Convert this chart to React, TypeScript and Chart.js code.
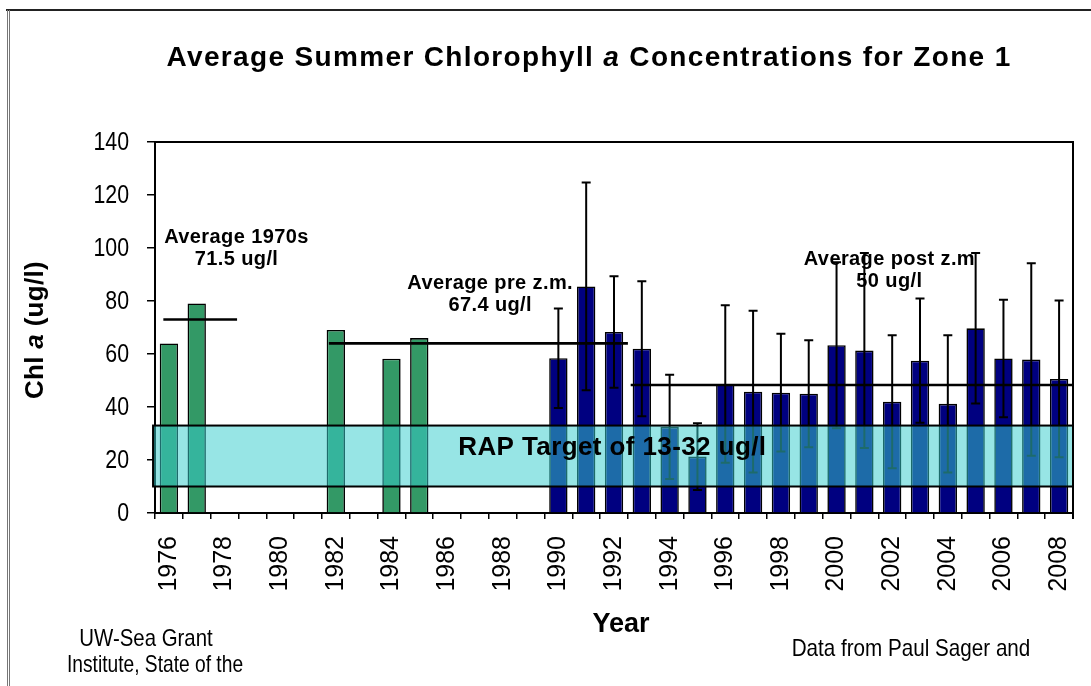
import React, { useEffect, useRef } from 'react';
import { Chart, registerables } from 'chart.js';

Chart.register(...registerables);

// ---------- data ----------
const categories = [
  '1976', '1977', '1978', '1979', '1980', '1981', '1982', '1983', '1984', '1985', '1986',
  '1987', '1988', '1989', '1990', '1991', '1992', '1993', '1994', '1995', '1996', '1997',
  '1998', '1999', '2000', '2001', '2002', '2003', '2004', '2005', '2006', '2007', '2008',
];

const preYears = ['1976', '1977', '1982', '1984', '1985'];
const preValues = [64.0, 79.1, 69.1, 58.2, 66.0];

const postYears = [
  '1990', '1991', '1992', '1993', '1994', '1995', '1996', '1997', '1998', '1999',
  '2000', '2001', '2002', '2003', '2004', '2005', '2006', '2007', '2008',
];
const postValues = [58.4, 85.5, 68.3, 62.0, 32.5, 21.3, 48.7, 45.8, 45.4, 45.0, 63.3, 61.3, 42.0, 57.5, 41.2, 69.7, 58.3, 57.9, 50.6];
const postErrors = [18.8, 39.2, 21.0, 25.5, 19.7, 12.6, 29.7, 30.5, 22.2, 20.2, 31.3, 36.8, 25.1, 23.4, 25.9, 28.4, 22.2, 36.3, 29.6];

const yTicks = [0, 20, 40, 60, 80, 100, 120, 140];

// average reference lines (in year / value units)
const avgNames = ['Average 1970s', 'Average pre z.m.', 'Average post z.m'];
const avgValueText = ['71.5 ug/l', '67.4 ug/l', '50 ug/l'];
const avgFrom = [1975.8, 1981.75, 1992.6];
const avgTo = [1978.45, 1992.5, 2008.5];
const avgLevel = [73, 64, 48.3];

// RAP target band
const targetLow = 10;
const targetHigh = 33;
const targetText = 'RAP Target of 13-32 ug/l';

// ---------- layout / style (not data) ----------
const FONT = '"Liberation Sans", Arial, sans-serif';
const annoAnchor = [
  { year: 1978.43, level: 101.8 },
  { year: 1987.55, level: 84.4 },
  { year: 2001.9, level: 93.4 },
];
const bandAnchor = { fromYear: 1975.43, textYear: 1991.94, textLevel: 21.9 };

function drawMixed(ctx: CanvasRenderingContext2D, parts: { t: string; italic?: boolean }[], size: number, cx: number, cy: number, spacing: number) {
  const widths = parts.map((p) => {
    ctx.font = `${p.italic ? 'italic ' : ''}bold ${size}px ${FONT}`;
    (ctx as any).letterSpacing = `${spacing}px`;
    return ctx.measureText(p.t).width;
  });
  const total = widths.reduce((a, b) => a + b, 0);
  let x = cx - total / 2;
  ctx.textAlign = 'left';
  parts.forEach((p, i) => {
    ctx.font = `${p.italic ? 'italic ' : ''}bold ${size}px ${FONT}`;
    (ctx as any).letterSpacing = `${spacing}px`;
    ctx.fillText(p.t, x, cy);
    x += widths[i];
  });
  (ctx as any).letterSpacing = '0px';
}

const overlayPlugin = {
  id: 'overlay',
  afterDatasetsDraw(chart: any) {
    const { ctx, chartArea: a, scales } = chart;
    const x = scales.x;
    const y = scales.y;
    const px = (yr: number) => x.getPixelForValue(yr - 1976);
    ctx.save();
    ctx.strokeStyle = '#000';
    ctx.fillStyle = '#000';

    // plot frame (top & right)
    ctx.lineWidth = 2;
    ctx.beginPath();
    ctx.moveTo(a.left, a.top);
    ctx.lineTo(a.right, a.top);
    ctx.lineTo(a.right, a.bottom + 6);
    ctx.stroke();

    // average lines
    ctx.lineWidth = 2.6;
    for (let i = 0; i < avgLevel.length; i++) {
      const yy = y.getPixelForValue(avgLevel[i]);
      ctx.beginPath();
      ctx.moveTo(px(avgFrom[i]), yy);
      ctx.lineTo(px(avgTo[i]), yy);
      ctx.stroke();
    }

    // average texts
    ctx.textBaseline = 'alphabetic';
    ctx.textAlign = 'center';
    ctx.font = `bold 20px ${FONT}`;
    (ctx as any).letterSpacing = '0.4px';
    for (let i = 0; i < avgNames.length; i++) {
      const cx = px(annoAnchor[i].year);
      const cy = y.getPixelForValue(annoAnchor[i].level);
      ctx.fillText(avgNames[i], cx, cy);
      ctx.fillText(avgValueText[i], cx, cy + 22);
    }
    (ctx as any).letterSpacing = '0px';

    // error bars
    ctx.lineWidth = 2;
    for (let i = 0; i < postYears.length; i++) {
      const idx = categories.indexOf(postYears[i]);
      const cx = x.getPixelForValue(idx);
      const top = y.getPixelForValue(postValues[i] + postErrors[i]);
      const bot = y.getPixelForValue(postValues[i] - postErrors[i]);
      ctx.beginPath();
      ctx.moveTo(cx, top);
      ctx.lineTo(cx, bot);
      ctx.moveTo(cx - 4.5, top);
      ctx.lineTo(cx + 4.5, top);
      ctx.moveTo(cx - 4.5, bot);
      ctx.lineTo(cx + 4.5, bot);
      ctx.stroke();
    }

    // RAP target band
    const bl = px(bandAnchor.fromYear);
    const bt = y.getPixelForValue(targetHigh);
    const bb = y.getPixelForValue(targetLow);
    ctx.fillStyle = 'rgba(56,206,206,0.52)';
    ctx.fillRect(bl, bt, a.right - bl, bb - bt);
    ctx.lineWidth = 2;
    ctx.strokeStyle = '#000';
    ctx.strokeRect(bl, bt, a.right - bl, bb - bt);
    ctx.fillStyle = '#000';
    ctx.font = `bold 26px ${FONT}`;
    (ctx as any).letterSpacing = '0.4px';
    ctx.textAlign = 'center';
    ctx.fillText(targetText, px(bandAnchor.textYear), y.getPixelForValue(bandAnchor.textLevel));
    (ctx as any).letterSpacing = '0px';
    ctx.restore();
  },
  afterDraw(chart: any) {
    const { ctx, chartArea: a, scales } = chart;
    const y = scales.y;
    ctx.save();
    ctx.fillStyle = '#000';
    ctx.textBaseline = 'alphabetic';

    // outer frame
    ctx.strokeStyle = '#222';
    ctx.lineWidth = 2;
    ctx.beginPath();
    ctx.moveTo(6, 10);
    ctx.lineTo(1091, 10);
    ctx.stroke();
    ctx.strokeStyle = '#777';
    ctx.lineWidth = 1;
    ctx.beginPath();
    ctx.moveTo(7.5, 10);
    ctx.lineTo(7.5, 686);
    ctx.moveTo(9.5, 10);
    ctx.lineTo(9.5, 686);
    ctx.stroke();

    // y tick labels (condensed)
    for (const v of yTicks) {
      ctx.save();
      ctx.translate(a.left - 26, y.getPixelForValue(v));
      ctx.scale(0.82, 1);
      ctx.font = `26px ${FONT}`;
      ctx.textAlign = 'right';
      ctx.textBaseline = 'middle';
      ctx.fillText(String(v), 0, 1);
      ctx.restore();
    }

    // title
    drawMixed(ctx, [
      { t: 'Average Summer Chlorophyll ' },
      { t: 'a', italic: true },
      { t: ' Concentrations for Zone 1' },
    ], 28, 589, 66, 1.35);

    // y title
    ctx.save();
    ctx.translate(36, 330);
    ctx.rotate(-Math.PI / 2);
    ctx.textBaseline = 'middle';
    drawMixed(ctx, [{ t: 'Chl ' }, { t: 'a', italic: true }, { t: ' (ug/l)' }], 26, 0, 0, 0.3);
    ctx.restore();

    // x title
    ctx.textAlign = 'center';
    ctx.font = `bold 27px ${FONT}`;
    ctx.fillText('Year', 621, 632);

    // footers
    const foot = (t: string, cx: number, by: number, sx: number) => {
      ctx.save();
      ctx.translate(cx, by);
      ctx.scale(sx, 1);
      ctx.font = `24px ${FONT}`;
      ctx.textAlign = 'center';
      ctx.fillText(t, 0, 0);
      ctx.restore();
    };
    foot('UW-Sea Grant', 146, 646, 0.85);
    foot('Institute, State of the', 155, 672, 0.8);
    foot('Data from Paul Sager and', 911, 656, 0.86);
    ctx.restore();
  },
};

const zeroPad = (s: any) => {
  s.paddingLeft = 0;
  s.paddingRight = 0;
  s.paddingTop = 0;
  s.paddingBottom = 0;
};

export default function App() {
  const ref = useRef<HTMLCanvasElement | null>(null);
  useEffect(() => {
    if (!ref.current) return;
    const preData = categories.map((c) => {
      const i = preYears.indexOf(c);
      return i >= 0 ? preValues[i] : null;
    });
    const postData = categories.map((c) => {
      const i = postYears.indexOf(c);
      return i >= 0 ? postValues[i] : null;
    });
    const chart = new Chart(ref.current, {
      type: 'bar',
      data: {
        labels: categories,
        datasets: [
          {
            label: 'Pre zebra mussel',
            data: preData,
            backgroundColor: '#339966',
            borderColor: '#000',
            borderWidth: 1.6,
            grouped: false,
            categoryPercentage: 1,
            barPercentage: 0.66,
          } as any,
          {
            label: 'Post zebra mussel',
            data: postData,
            backgroundColor: '#000080',
            borderColor: '#000',
            borderWidth: 1.6,
            grouped: false,
            categoryPercentage: 1,
            barPercentage: 0.66,
          } as any,
        ],
      },
      options: {
        responsive: false,
        animation: false,
        devicePixelRatio: 1,
        layout: { padding: { left: 0, right: 18, top: 142, bottom: 73 } },
        plugins: { legend: { display: false }, tooltip: { enabled: false }, title: { display: false } },
        scales: {
          x: {
            type: 'category',
            offset: true,
            afterFit: (s: any) => { s.height = 100; zeroPad(s); },
            grid: { offset: true, drawOnChartArea: false, drawTicks: true, tickLength: 6, color: '#000', lineWidth: 1.5 },
            border: { display: true, color: '#000', width: 2 },
            ticks: {
              autoSkip: false,
              minRotation: 90,
              maxRotation: 90,
              padding: 17,
              color: '#000',
              font: { family: FONT, size: 25 },
              callback: (_v: any, i: number) => (i % 2 === 0 ? categories[i] : ''),
            },
          },
          y: {
            min: yTicks[0],
            max: yTicks[yTicks.length - 1],
            afterFit: (s: any) => { s.width = 155; zeroPad(s); },
            afterBuildTicks: (s: any) => { s.ticks = yTicks.map((v) => ({ value: v })); },
            grid: { drawOnChartArea: false, drawTicks: true, tickLength: 8, color: '#000', lineWidth: 1.5 },
            border: { display: true, color: '#000', width: 2 },
            ticks: { display: false },
          },
        },
      },
      plugins: [overlayPlugin],
    });
    return () => chart.destroy();
  }, []);
  return (
    <div style={{ position: 'fixed', left: 0, top: 0, width: 1091, height: 686, background: '#fff' }}>
      <canvas ref={ref} width={1091} height={686} style={{ display: 'block', width: 1091, height: 686 }} />
    </div>
  );
}
